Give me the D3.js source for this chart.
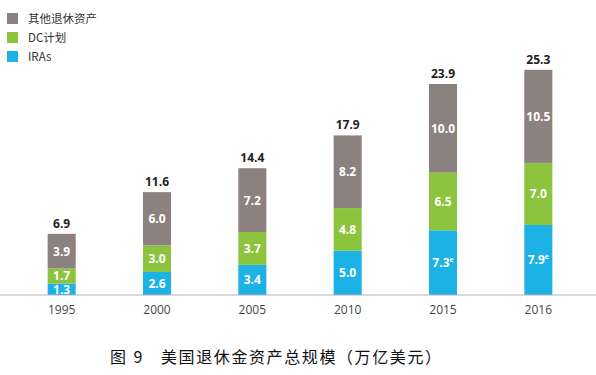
<!DOCTYPE html>
<html><head><meta charset="utf-8">
<script src="https://cdn.jsdelivr.net/npm/d3@7"></script>
<style>body{margin:0;background:#fff}svg{display:block}</style>
</head><body><svg id="c" width="596" height="375"></svg>
<script>
const years = ["1995","2000","2005","2010","2015","2016"];
const iras = [1.3, 2.6, 3.4, 5.0, 7.3, 7.9];
const dc = [1.7, 3.0, 3.7, 4.8, 6.5, 7.0];
const other = [3.9, 6.0, 7.2, 8.2, 10.0, 10.5];
const totals = [6.9, 11.6, 14.4, 17.9, 23.9, 25.3];
const iraLabels = ["1.3","2.6","3.4","5.0","7.3","7.9"];
const iraSup = ["","","","","e","e"];
const seriesNames = ["其他退休资产","DC计划","IRAs"];
const colors = {IRAs:"#1cb2e6", DC:"#8dc43e", other:"#8b817e"};
const captionLabel = "图 9";
const captionText = "美国退休金资产总规模（万亿美元）";

const svg = d3.select("#c");
const baseY = 295;
const x = d3.scaleBand().domain(years).range([14, 586]).paddingInner(0.706).paddingOuter(0.353);
const y = d3.scaleLinear().domain([0, 25.3]).range([baseY, baseY - 224.3]);

const rows = years.map((yr,i)=>({year:yr, IRAs:iras[i], DC:dc[i], other:other[i]}));
const keys = ["IRAs","DC","other"];
const stack = d3.stack().keys(keys)(rows);

const g = svg.append("g");
stack.forEach(layer=>{
  g.selectAll(null).data(layer).enter().append("rect")
    .attr("x", d=>x(d.data.year))
    .attr("width", x.bandwidth())
    .attr("y", d=>y(d[1]))
    .attr("height", d=>y(d[0])-y(d[1]))
    .attr("fill", colors[layer.key]);
  g.selectAll(null).data(layer).enter().append("text")
    .attr("x", d=>x(d.data.year)+x.bandwidth()/2)
    .attr("y", d=>(y(d[0])+y(d[1]))/2 + 4.5)
    .attr("text-anchor","middle")
    .attr("fill","#fff")
    .attr("font-family","Open Sans, sans-serif")
    .attr("font-weight","bold")
    .attr("font-size", 12)
    .each(function(d,i){
      const t = d3.select(this);
      if(layer.key==="IRAs"){
        t.append("tspan").text(iraLabels[i]);
        if(iraSup[i]) t.append("tspan").attr("font-size",7).attr("dy",-5).text(iraSup[i]);
      } else {
        t.text(d3.format(".1f")(d.data[layer.key]));
      }
    });
});

// totals
svg.selectAll(".tot").data(years).enter().append("text")
  .attr("x", d=>x(d)+x.bandwidth()/2)
  .attr("y", (d,i)=>y(d3.sum([iras[i],dc[i],other[i]])) - 6)
  .attr("text-anchor","middle")
  .attr("fill","#222")
  .attr("font-family","Open Sans, sans-serif")
  .attr("font-weight","bold")
  .attr("font-size",12)
  .text((d,i)=>d3.format(".1f")(totals[i]));

// axis
const axis = d3.axisBottom(x).tickSize(0).tickPadding(10);
const ag = svg.append("g").attr("transform",`translate(0,${baseY})`).call(axis);
ag.select(".domain").remove();
ag.append("line").attr("x1",0).attr("x2",596).attr("y1",0).attr("y2",0).attr("stroke","#b5b5b5").attr("stroke-width",1);
ag.selectAll("text").attr("font-family","Open Sans, sans-serif").attr("font-size",12).attr("fill","#444");

// legend
const legKeys = ["other","DC","IRAs"];
const lg = svg.append("g");
legKeys.forEach((k,i)=>{
  lg.append("rect").attr("x",7).attr("y",13+i*19).attr("width",11).attr("height",11).attr("fill",colors[k]);
  lg.append("text").attr("x",28).attr("y",23+i*19).attr("font-family","Noto Sans CJK SC, sans-serif")
    .attr("font-size",11.5).attr("fill","#333").text(seriesNames[i]);
});

// caption
svg.append("text").attr("x",110).attr("y",363).attr("font-family","Noto Sans CJK SC, sans-serif")
  .attr("font-size",16).attr("fill","#111").attr("letter-spacing",2).text(captionLabel);
svg.append("text").attr("x",161).attr("y",363).attr("font-family","Noto Sans CJK SC, sans-serif")
  .attr("font-size",16).attr("fill","#111").attr("letter-spacing",1.6).text(captionText);
</script></body></html>
